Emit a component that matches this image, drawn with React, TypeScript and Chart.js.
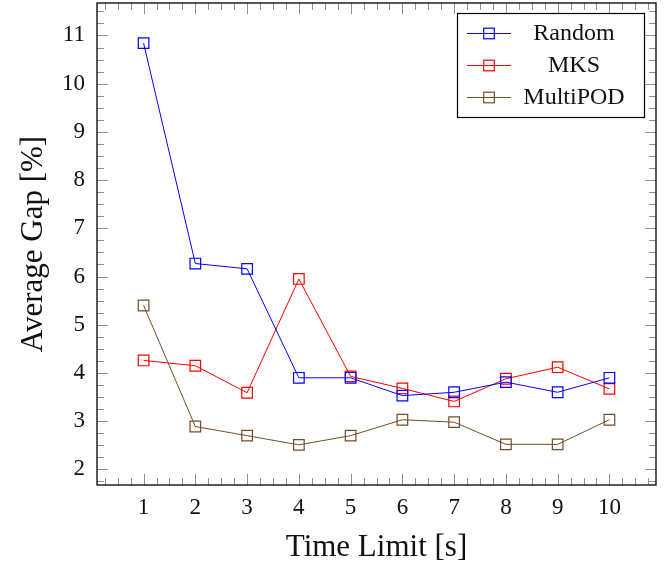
import React, { useEffect, useRef } from 'react';
import { Chart, registerables } from 'chart.js';

Chart.register(...registerables);

const timeLimits = [1, 2, 3, 4, 5, 6, 7, 8, 9, 10];
const randomGap = [10.84, 6.27, 6.16, 3.9, 3.9, 3.53, 3.6, 3.81, 3.6, 3.9];
const mksGap = [4.26, 4.15, 3.59, 5.95, 3.93, 3.68, 3.41, 3.88, 4.12, 3.67];
const multiPodGap = [5.4, 2.89, 2.7, 2.51, 2.7, 3.03, 2.98, 2.52, 2.52, 3.03];
const seriesLabels = ['Random', 'MKS', 'MultiPOD'];
const seriesColors = ['#0000ff', '#ff0000', '#734d26'];
const xTickValues = [1, 2, 3, 4, 5, 6, 7, 8, 9, 10];
const yTickValues = [2, 3, 4, 5, 6, 7, 8, 9, 10, 11];
const xTitle = 'Time Limit [s]';
const yTitle = 'Average Gap [%]';

const FONT = "'Liberation Serif', 'DejaVu Serif', serif";
const MINOR = 0.25;

function enlarged(vals: number[]): [number, number] {
  const mn = Math.min(...vals);
  const mx = Math.max(...vals);
  const pad = (mx - mn) * 0.1;
  return [mn - pad, mx + pad];
}

const [xMin, xMax] = enlarged(timeLimits);
const [yMin, yMax] = enlarged([...randomGap, ...mksGap, ...multiPodGap]);

const framePlugin = {
  id: 'pgfFrame',
  beforeDatasetsDraw(chart: any) {
    const { ctx, chartArea: a, scales } = chart;
    const x = scales.x;
    const y = scales.y;
    ctx.save();
    ctx.strokeStyle = '#909090';
    ctx.lineWidth = 1;
    const isMajor = (v: number, list: number[]) =>
      list.some((t) => Math.abs(t - v) < 1e-6);
    for (let v = Math.ceil(x.min / MINOR) * MINOR; v <= x.max + 1e-9; v += MINOR) {
      const px = Math.round(x.getPixelForValue(v)) + 0.5;
      const len = isMajor(v, xTickValues) ? 11 : 7;
      ctx.beginPath();
      ctx.moveTo(px, a.bottom);
      ctx.lineTo(px, a.bottom - len);
      ctx.moveTo(px, a.top);
      ctx.lineTo(px, a.top + len);
      ctx.stroke();
    }
    for (let v = Math.ceil(y.min / MINOR) * MINOR; v <= y.max + 1e-9; v += MINOR) {
      const py = Math.round(y.getPixelForValue(v)) + 0.5;
      const len = isMajor(v, yTickValues) ? 11 : 7;
      ctx.beginPath();
      ctx.moveTo(a.left, py);
      ctx.lineTo(a.left + len, py);
      ctx.moveTo(a.right, py);
      ctx.lineTo(a.right - len, py);
      ctx.stroke();
    }
    ctx.strokeStyle = '#000';
    ctx.lineWidth = 1.3;
    ctx.strokeRect(a.left, a.top, a.right - a.left, a.bottom - a.top);
    ctx.restore();
  },
  afterDraw(chart: any) {
    const { ctx, chartArea: a } = chart;
    ctx.save();
    const bx = a.left + 360;
    const by = a.top + 10;
    const bw = 187;
    const bh = 104;
    ctx.fillStyle = '#fff';
    ctx.fillRect(bx, by, bw, bh);
    ctx.strokeStyle = '#000';
    ctx.lineWidth = 1.2;
    ctx.strokeRect(bx + 0.5, by + 0.5, bw, bh);
    chart.data.datasets.forEach((ds: any, i: number) => {
      const cy = by + 20 + i * 32;
      ctx.strokeStyle = ds.borderColor;
      ctx.lineWidth = 1;
      ctx.beginPath();
      ctx.moveTo(bx + 10, cy + 0.5);
      ctx.lineTo(bx + 54, cy + 0.5);
      ctx.stroke();
      ctx.lineWidth = 1.2;
      ctx.strokeRect(bx + 32 - 5.3, cy - 5.3 + 0.5, 10.6, 10.6);
      ctx.fillStyle = '#111';
      ctx.font = `24px ${FONT}`;
      ctx.textAlign = 'center';
      ctx.textBaseline = 'middle';
      ctx.fillText(ds.label, bx + 117, cy + 1);
    });
    ctx.restore();
  },
};

function makeDataset(i: number, values: number[]) {
  return {
    label: seriesLabels[i],
    data: timeLimits.map((t, k) => ({ x: t, y: values[k] })),
    borderColor: seriesColors[i],
    backgroundColor: 'transparent',
    borderWidth: 1,
    pointStyle: 'rect',
    pointRadius: 7.5,
    pointHoverRadius: 7.5,
    pointBorderWidth: 1.2,
    pointBorderColor: seriesColors[i],
    pointBackgroundColor: 'transparent',
    tension: 0,
    fill: false,
  };
}

export default function App() {
  const ref = useRef<HTMLCanvasElement | null>(null);
  useEffect(() => {
    if (!ref.current) return;
    const chart = new Chart(ref.current, {
      type: 'line',
      data: {
        datasets: [
          makeDataset(0, randomGap),
          makeDataset(1, mksGap),
          makeDataset(2, multiPodGap),
        ] as any,
      },
      options: {
        animation: false,
        responsive: false,
        maintainAspectRatio: false,
        layout: { autoPadding: false, padding: { top: 3, right: 9, left: 0, bottom: 0 } },
        plugins: {
          legend: { display: false },
          tooltip: { enabled: false },
        },
        scales: {
          x: {
            type: 'linear',
            min: xMin,
            max: xMax,
            afterBuildTicks: (s: any) => {
              s.ticks = xTickValues.map((v) => ({ value: v }));
            },
            afterFit: (s: any) => {
              s.height = 84;
              s.paddingLeft = 0;
              s.paddingRight = 0;
            },
            grid: { display: false, drawTicks: false },
            border: { display: false },
            ticks: {
              padding: 9,
              color: '#111',
              font: { family: FONT, size: 23 },
              maxRotation: 0,
              autoSkip: false,
            },
            title: {
              display: true,
              text: xTitle,
              color: '#111',
              font: { family: FONT, size: 31, lineHeight: 1.2 },
              padding: { top: 0, bottom: 3 },
            },
          },
          y: {
            type: 'linear',
            min: yMin,
            max: yMax,
            afterBuildTicks: (s: any) => {
              s.ticks = yTickValues.map((v) => ({ value: v }));
            },
            afterFit: (s: any) => {
              s.width = 97;
              s.paddingTop = 0;
              s.paddingBottom = 0;
            },
            grid: { display: false, drawTicks: false },
            border: { display: false },
            ticks: {
              padding: 12,
              color: '#111',
              font: { family: FONT, size: 23 },
              autoSkip: false,
            },
            title: {
              display: true,
              text: yTitle,
              color: '#111',
              font: { family: FONT, size: 31, lineHeight: 1.2 },
              padding: { top: 15, bottom: 0 },
            },
          },
        },
      },
      plugins: [framePlugin],
    });
    return () => chart.destroy();
  }, []);
  return (
    <div style={{ position: 'fixed', left: 0, top: 0, width: 665, height: 569, background: '#fff' }}>
      <canvas ref={ref} width={665} height={569} style={{ display: 'block', width: 665, height: 569 }} />
    </div>
  );
}
